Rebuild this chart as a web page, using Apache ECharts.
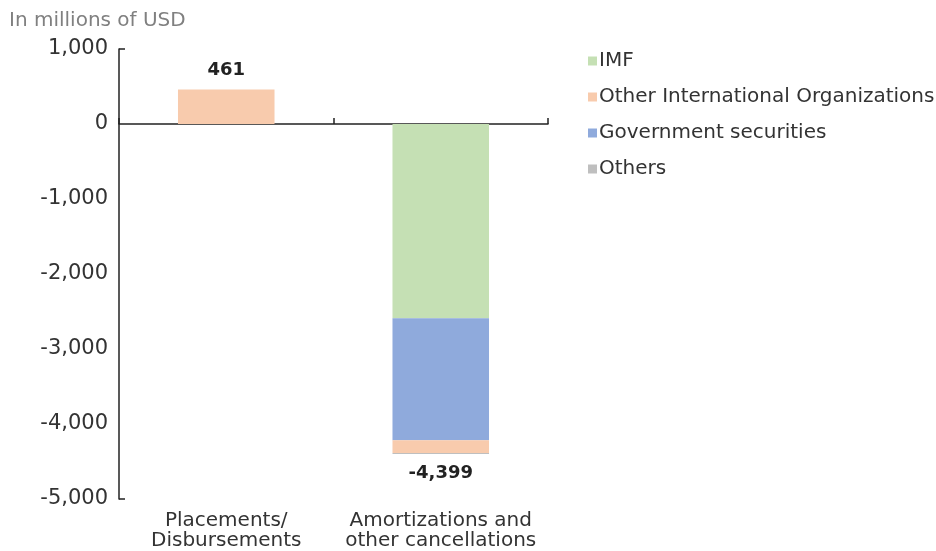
<!DOCTYPE html>
<html>
<head>
<meta charset="utf-8">
<script src="https://cdn.jsdelivr.net/npm/echarts@6/dist/echarts.min.js"></script>
<style>html,body{margin:0;padding:0;background:#fff}#c{width:936px;height:551px}</style>
</head>
<body>
<div id="c"></div>
<script>
const categories = ['Placements/\nDisbursements', 'Amortizations and\nother cancellations'];
const imf = [0, -2590];
const govSecurities = [0, -1625];
const otherIntlOrgs = [461, -170];
const others = [0, -14];
const totals = [461, -4399];
const yTicks = [-5000, 1000, 1000];

const FONT = '"DejaVu Sans", sans-serif';
const fmt = v => v.toLocaleString('en-US');

const chart = echarts.init(document.getElementById('c'));
chart.setOption({
  animation: false,
  textStyle: { fontFamily: FONT },
  title: {
    text: 'In millions of USD', left: 4, top: 6,
    textStyle: { fontSize: 20, fontWeight: 'normal', color: '#808080', fontFamily: FONT }
  },
  legend: {
    orient: 'vertical', left: 583, top: 46,
    itemWidth: 9, itemHeight: 9, itemGap: 16,
    icon: 'rect',
    textStyle: { fontSize: 20, color: '#333', fontFamily: FONT, padding: [0, 0, 0, -3] },
    data: ['IMF', 'Other International Organizations', 'Government securities', 'Others']
  },
  grid: { left: 119, right: 388, top: 49, bottom: 52, containLabel: false },
  xAxis: [
    {
      type: 'category', data: categories, position: 'bottom',
      axisLine: { show: false, onZero: false }, axisTick: { show: false },
      axisLabel: { interval: 0, fontSize: 20, color: '#333', lineHeight: 20, margin: 12, fontFamily: FONT }
    },
    {
      type: 'category', data: categories, position: 'bottom',
      axisLine: { show: true, onZero: true, lineStyle: { color: '#222', width: 1.5 } },
      axisTick: { show: true, inside: true, length: 6, lineStyle: { color: '#222', width: 1.5 } },
      axisLabel: { show: false }
    }
  ],
  yAxis: [
    {
      type: 'value', min: yTicks[0], max: yTicks[1], interval: yTicks[2],
      axisLine: { show: true, lineStyle: { color: '#222', width: 1.5 } },
      axisTick: { show: false }, splitLine: { show: false },
      axisLabel: { fontSize: 21, color: '#333', margin: 11, formatter: fmt, fontFamily: FONT }
    },
    {
      type: 'value', min: yTicks[0], max: yTicks[1], interval: yTicks[1] - yTicks[0], position: 'left',
      axisLine: { show: false }, splitLine: { show: false },
      axisTick: { show: true, inside: true, length: 6, lineStyle: { color: '#222', width: 1.5 } },
      axisLabel: { show: false }
    }
  ],
  series: [
    { name: 'IMF', type: 'bar', stack: 's', barWidth: '45%', data: imf, itemStyle: { color: '#c5e0b4' } },
    { name: 'Government securities', type: 'bar', stack: 's', data: govSecurities, itemStyle: { color: '#8faadc' } },
    {
      name: 'Other International Organizations', type: 'bar', stack: 's', itemStyle: { color: '#f8cbad' },
      data: otherIntlOrgs.map((v, i) => i === 0 ? {
        value: v,
        label: { show: true, position: 'top', distance: 10, formatter: () => fmt(totals[0]),
                 fontSize: 18, fontWeight: 'bold', color: '#222', fontFamily: FONT }
      } : v)
    },
    {
      name: 'Others', type: 'bar', stack: 's', itemStyle: { color: '#bfbfbf' },
      data: others.map((v, i) => i === 1 ? {
        value: v,
        label: { show: true, position: 'bottom', distance: 10, formatter: () => fmt(totals[1]),
                 fontSize: 18, fontWeight: 'bold', color: '#222', fontFamily: FONT }
      } : v)
    }
  ]
});
</script>
</body>
</html>
